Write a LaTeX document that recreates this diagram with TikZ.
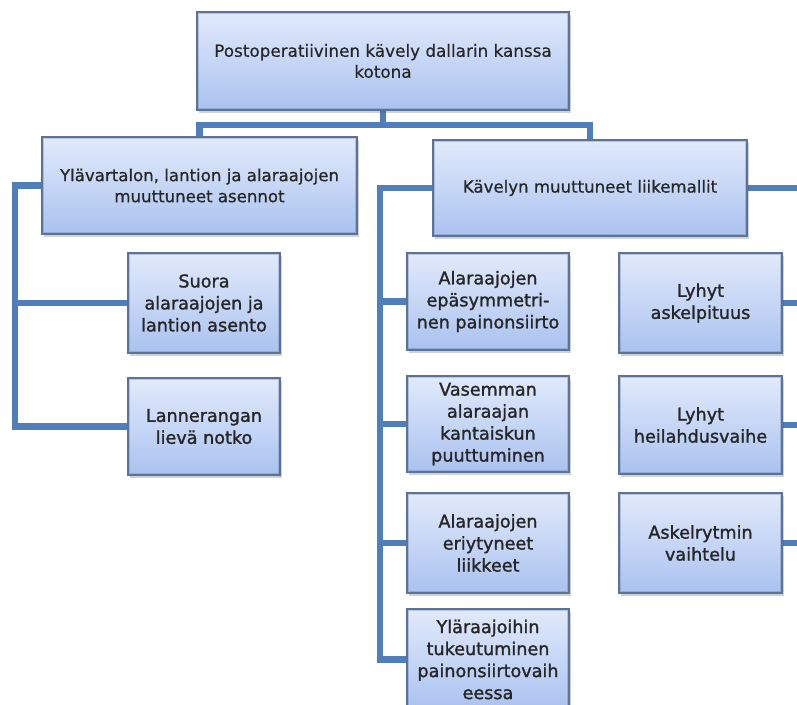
\documentclass[tikz,border=0pt]{standalone}
\usepackage{fontspec}
\setmainfont{DejaVu Sans}
\newfontfamily\rootfont{DejaVu Sans}[FakeBold=0.35]
\newfontfamily\semiboldfont{DejaVu Sans}[FakeBold=0.7]
\newfontfamily\boldishfont{DejaVu Sans}[FakeBold=1.4]
\usetikzlibrary{shadows,backgrounds}
\definecolor{boxtop}{HTML}{E2EAFB}
\definecolor{boxbot}{HTML}{AAC2F0}
\definecolor{boxedge}{HTML}{5A7396}
\definecolor{connc}{HTML}{4F7EBA}
\definecolor{textc}{HTML}{262626}
\tikzset{
  box/.style={draw=boxedge, line width=1.8pt, top color=boxtop, bottom color=boxbot,
    align=center, inner sep=3pt, text=textc,
    path picture={\draw[boxedge, opacity=0.3, line width=4pt]
      (path picture bounding box.south west) rectangle (path picture bounding box.north east);},
    drop shadow={shadow xshift=2pt, shadow yshift=-2.5pt, opacity=0.25, fill=black!70}},
  roottext/.style={font=\rootfont\fontsize{16.8}{21}\selectfont},
  midtext/.style={font=\semiboldfont\fontsize{16.6}{21}\selectfont},
  leaftext/.style={font=\boldishfont\fontsize{17.6}{22}\selectfont},
  conn/.style={draw=connc, line width=6.5pt, line join=miter}
}
\begin{document}
\begin{tikzpicture}[x=1pt,y=-1pt]
\useasboundingbox (0,0) rectangle (797,704);
\clip (0,0) rectangle (797,704);
% top level
\node[box, roottext, minimum width=372pt, minimum height=98pt] (root) at (383,61)
  {Postoperatiivinen kävely dallarin kanssa\\kotona};
% second level
\node[box, midtext, minimum width=315pt, minimum height=97pt] (posture) at (199.5,185.5)
  {Ylävartalon, lantion ja alaraajojen\\muuttuneet asennot};
\node[box, midtext, minimum width=314pt, minimum height=96pt] (gait) at (590,188)
  {Kävelyn muuttuneet liikemallit};
% posture children
\node[box, leaftext, minimum width=152pt, minimum height=100pt] (suora) at (204,303)
  {Suora\\alaraajojen ja\\lantion asento};
\node[box, leaftext, minimum width=152pt, minimum height=97pt] (lanne) at (204,426.5)
  {Lannerangan\\lievä notko};
% gait children, left column
\node[box, leaftext, minimum width=162pt, minimum height=97pt] (asym) at (488,301.5)
  {Alaraajojen\\epäsymmetri-\\nen painonsiirto};
\node[box, leaftext, minimum width=162pt, minimum height=96pt] (kanta) at (488,424)
  {Vasemman\\alaraajan\\kantaiskun\\puuttuminen};
\node[box, leaftext, minimum width=162pt, minimum height=100pt] (eriyt) at (488,543)
  {Alaraajojen\\eriytyneet\\liikkeet};
\node[box, leaftext, minimum width=162pt, minimum height=101pt] (ylaraaja) at (488,659.5)
  {Yläraajoihin\\tukeutuminen\\painonsiirtovaih\\eessa};
% gait children, right column
\node[box, leaftext, minimum width=163pt, minimum height=100pt] (askel) at (700.5,303)
  {Lyhyt\\askelpituus};
\node[box, leaftext, minimum width=163pt, minimum height=98pt] (heilah) at (700.5,425)
  {Lyhyt\\heilahdusvaihe};
\node[box, leaftext, minimum width=163pt, minimum height=100pt] (rytmi) at (700.5,543)
  {Askelrytmin\\vaihtelu};
% connector helpers
\coordinate (bar) at (383,125);
\coordinate (trunkA) at (15,0);
\coordinate (trunkB) at (380,0);
\coordinate (edge) at (805,0);
\begin{scope}[on background layer]
  \draw[conn] (root.south) -- (bar);
  \draw[conn] (posture.north) |- (bar) -| (gait.north);
  \draw[conn] (posture.west) -| (trunkA |- lanne.west) -- (lanne.west);
  \draw[conn] (suora.west) -- (suora.west -| trunkA);
  \draw[conn] (gait.west) -| (trunkB |- ylaraaja.west) -- (ylaraaja.west);
  \draw[conn] (asym.west) -- (asym.west -| trunkB);
  \draw[conn] (kanta.west) -- (kanta.west -| trunkB);
  \draw[conn] (eriyt.west) -- (eriyt.west -| trunkB);
  \draw[conn] (gait.east) -- (gait.east -| edge);
  \draw[conn] (askel.east) -- (askel.east -| edge);
  \draw[conn] (heilah.east) -- (heilah.east -| edge);
  \draw[conn] (rytmi.east) -- (rytmi.east -| edge);
\end{scope}
\end{tikzpicture}
\end{document}
